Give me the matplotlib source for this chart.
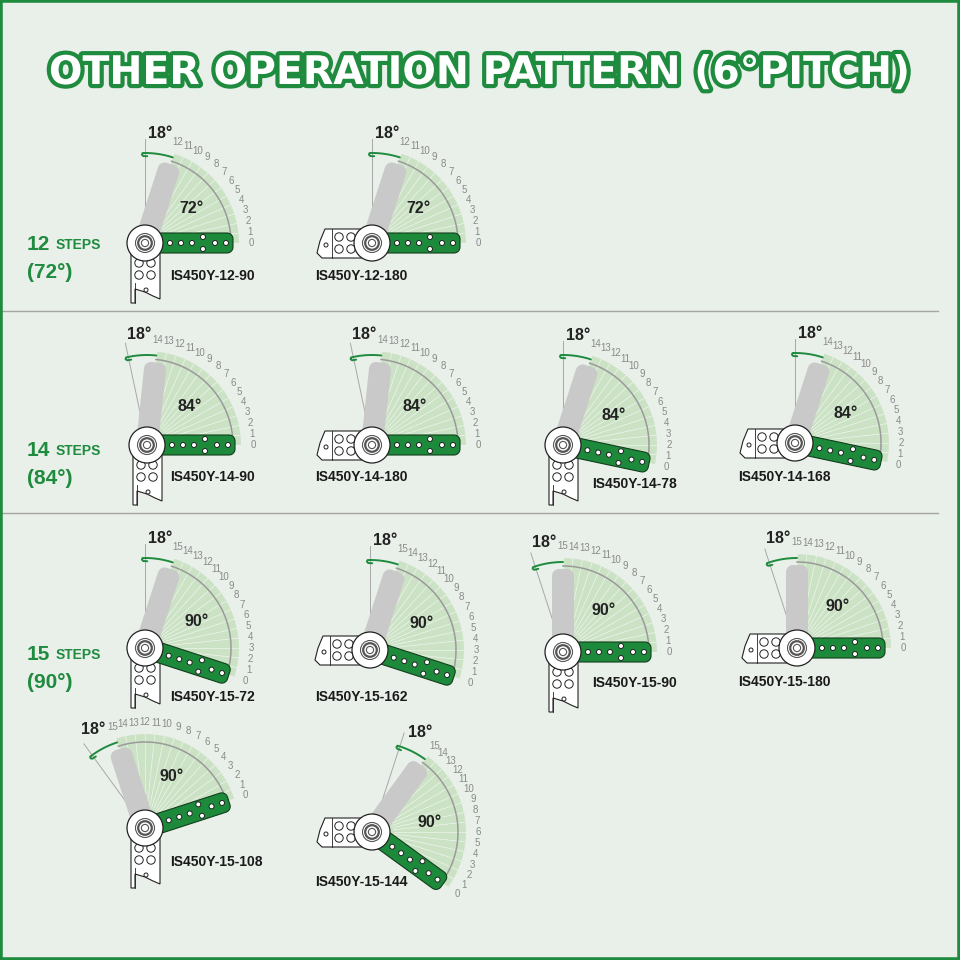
import numpy as np
import matplotlib
matplotlib.use("Agg")
import matplotlib.pyplot as plt
from matplotlib.patches import Polygon, Circle, Rectangle
import matplotlib.patheffects as pe

# --- Chart content ---
title = "OTHER OPERATION PATTERN (6°PITCH)"
pitch = 6          # degrees per step
extra_angle = 18   # angle beyond the last step
row_steps = [12, 14, 15]

models = ["IS450Y-12-90", "IS450Y-12-180",
          "IS450Y-14-90", "IS450Y-14-180", "IS450Y-14-78", "IS450Y-14-168",
          "IS450Y-15-72", "IS450Y-15-162", "IS450Y-15-90", "IS450Y-15-180",
          "IS450Y-15-108", "IS450Y-15-144"]
model_steps = [12, 12, 14, 14, 14, 14, 15, 15, 15, 15, 15, 15]
model_angles = [90, 180, 90, 180, 78, 168, 72, 162, 90, 180, 108, 144]
bracket_side = ["down", "left", "down", "left", "down", "left",
                "down", "left", "down", "left", "down", "left"]

# --- Layout (pixels, y from top) ---
hub_xy = [(145, 243), (372, 243),
          (147, 445), (372, 445), (563, 445), (795, 443),
          (145, 648), (370, 650), (563, 652), (797, 648),
          (145, 828), (372, 832)]
label_xy = [(170, 276), (315, 276),
            (170, 477), (315, 477), (592, 484), (738, 477),
            (170, 697), (315, 697), (592, 683), (738, 682),
            (170, 862), (315, 882)]
row_label_y = [(245, 273), (451, 478), (655, 682)]
separators_y = [311, 513]

GREEN = "#1e8b3e"
ARM = "#1d8a3b"
BG = "#e9efe9"
FAN = "#cbe2c5"

R_FAN = 94
R_ARC = 86
R_NUM = 106
HUB_R = 18


def pt(cx, cy, r, a):
    t = np.radians(a)
    return cx + r * np.cos(t), cy - r * np.sin(t)


def rot(cx, cy, pts, a):
    t = np.radians(a)
    out = []
    for x, y in pts:
        out.append((cx + x * np.cos(t) - y * np.sin(t),
                    cy - (x * np.sin(t) + y * np.cos(t))))
    return out


def arm_shape(length, width, rc):
    h = width / 2
    pts = [(0, -h), (length - rc, -h)]
    for t in np.linspace(-90, 0, 8):
        pts.append((length - rc + rc * np.cos(np.radians(t)), -h + rc + rc * np.sin(np.radians(t))))
    for t in np.linspace(0, 90, 8):
        pts.append((length - rc + rc * np.cos(np.radians(t)), h - rc + rc * np.sin(np.radians(t))))
    pts.append((0, h))
    return pts


def hole(ax, x, y, r, z):
    ax.add_patch(Circle((x, y), r, facecolor="white", edgecolor="#222", lw=0.7, zorder=z))


def draw_bracket(ax, cx, cy, side):
    if side == "down":
        poly = [(-14, 0), (-14, 60), (-10, 60), (-10, 46), (0, 49), (8, 53), (15, 56), (15, 0)]
        holes = [(-6, 20), (6, 20), (-6, 32), (6, 32)]
        small = (1, 47)
        ax.plot([cx - 10, cx - 10], [cy + 40, cy + 60], color="#222", lw=0.6, zorder=3.1)
    else:
        poly = [(0, -14), (-47, -14), (-52, -2), (-55, 10), (-50, 15), (0, 15)]
        holes = [(-33, -6), (-21, -6), (-33, 6), (-21, 6)]
        small = (-46, 2)
        ax.plot([cx - 40, cx - 40], [cy - 14, cy + 15], color="#222", lw=0.6, zorder=3.1)
    ax.add_patch(Polygon([(cx + x, cy + y) for x, y in poly], closed=True,
                         facecolor="white", edgecolor="#222", lw=0.8, zorder=3))
    for hx, hy in holes:
        hole(ax, cx + hx, cy + hy, 4.2, 3.2)
    hole(ax, cx + small[0], cy + small[1], 2, 3.2)


def draw_unit(ax, name, steps, angle, side, hub, lab):
    cx, cy = hub
    a0 = angle - (90 if side == "down" else 180)
    sweep = steps * pitch
    a1 = a0 + sweep

    # fan of steps
    for k in range(steps):
        p1 = pt(cx, cy, R_FAN, a0 + k * pitch)
        p2 = pt(cx, cy, R_FAN, a0 + (k + 1) * pitch)
        ax.add_patch(Polygon([(cx, cy), p1, p2], closed=True, facecolor=FAN,
                             edgecolor="none", zorder=1))
    for k in range(steps + 1):
        x1, y1 = pt(cx, cy, 22, a0 + k * pitch)
        x2, y2 = pt(cx, cy, R_FAN, a0 + k * pitch)
        ax.plot([x1, x2], [y1, y2], color="#edf5eb", lw=0.5, zorder=1.2)
        xn, yn = pt(cx, cy, R_NUM, a0 + k * pitch)
        ax.text(xn, yn, str(k), fontsize=7, color="#8a8a8a", ha="center", va="center",
                family="Liberation Sans", zorder=2)

    # inner arc
    aa = np.linspace(a0, a1, 60)
    xa, ya = pt(cx, cy, R_ARC, aa)
    ax.plot(xa, ya, color="#9a9a9a", lw=1.1, zorder=1.5)

    # thin limit line and 18 degree arrow
    xl, yl = pt(cx, cy, 104, a1 + extra_angle)
    ax.plot([cx, xl], [cy, yl], color="#a8a8a8", lw=0.7, zorder=1.1)
    ag = np.linspace(a1, a1 + extra_angle + 1.5, 40)
    xg, yg = pt(cx, cy, 90, ag)
    hook_a = [a1 + extra_angle + 1.5, a1 + extra_angle + 2.0, a1 + extra_angle + 1.2, a1 + extra_angle - 1.5]
    hook_r = [90, 88.5, 87, 86.8]
    xh, yh = pt(cx, cy, np.array(hook_r), np.array(hook_a))
    ax.plot(np.r_[xg, xh], np.r_[yg, yh], color=GREEN, lw=1.4, zorder=3, solid_capstyle="round")
    xt, yt = pt(cx, cy, 111, a1 + 10)
    ax.text(xt, yt, f"{extra_angle}°", fontsize=11.5, fontweight="bold", color="#222",
            ha="center", va="center", family="Liberation Sans", zorder=4)

    # sweep angle label
    xm, ym = pt(cx, cy, 58, (a0 + a1) / 2)
    ax.text(xm, ym, f"{sweep}°", fontsize=11.5, fontweight="bold", color="#222",
            ha="center", va="center", family="Liberation Sans", zorder=4)

    # grey arm at the end position
    ax.add_patch(Polygon(rot(cx, cy, arm_shape(83, 22, 7), a1), closed=True,
                         facecolor="#c9c9c9", edgecolor="none", zorder=2.5))

    draw_bracket(ax, cx, cy, side)

    # green arm at the start position
    ax.add_patch(Polygon(rot(cx, cy, arm_shape(88, 20, 6), a0), closed=True,
                         facecolor=ARM, edgecolor="#123d1c", lw=0.8, zorder=4))
    for d in [25, 36, 47, 70, 81]:
        (hx, hy), = rot(cx, cy, [(d, 0)], a0)
        hole(ax, hx, hy, 2.5, 4.2)
    for off in (-6, 6):
        (hx, hy), = rot(cx, cy, [(58, off)], a0)
        hole(ax, hx, hy, 2.5, 4.2)

    # hub
    ax.add_patch(Circle((cx, cy), HUB_R, facecolor="white", edgecolor="#222", lw=0.9, zorder=5))
    ax.add_patch(Circle((cx, cy), 9.5, facecolor="white", edgecolor="#555", lw=0.8, zorder=5.1))
    ax.add_patch(Circle((cx, cy), 6.8, facecolor="white", edgecolor="#555", lw=1.6, zorder=5.2))
    ax.add_patch(Circle((cx, cy), 3.6, facecolor="white", edgecolor="#555", lw=0.8, zorder=5.3))

    ax.text(lab[0], lab[1], name, fontsize=10, fontweight="bold", color="#1a1a1a",
            ha="left", va="center", family="Liberation Sans", zorder=6)


fig = plt.figure(figsize=(9.6, 9.6), dpi=100, facecolor=BG)
ax = fig.add_axes([0, 0, 1, 1])
ax.set_xlim(0, 960)
ax.set_ylim(960, 0)
ax.set_facecolor(BG)
ax.axis("off")

# frame
fig.patches.append(Rectangle((0, 0), 1, 1, transform=fig.transFigure, fill=False,
                             edgecolor=GREEN, lw=4, zorder=10))

# title: white letters with green outline, scaled to span the page
t = ax.text(480, 73, title, fontsize=28, fontweight="heavy", color="white",
            ha="center", va="center", family="DejaVu Sans", zorder=6,
            path_effects=[pe.Stroke(linewidth=6, foreground=GREEN), pe.Normal()])
fig.canvas.draw()
w = t.get_window_extent().width
t.set_fontsize(28 * 862 / w)

for y in separators_y:
    ax.plot([0, 938], [y, y], color="#a5a5a5", lw=1.0, zorder=0.5)

for n, (y1, y2) in zip(row_steps, row_label_y):
    tx = ax.text(27, y1, f"{n}", fontsize=15, fontweight="bold", color=GREEN,
                 ha="left", va="center", family="Liberation Sans")
    ax.annotate("STEPS", xy=(1, 0.5), xycoords=tx, xytext=(4, 0), textcoords="offset points",
                fontsize=10, fontweight="bold", color=GREEN, ha="left", va="center",
                family="Liberation Sans")
    ax.text(27, y2, f"({n * pitch}°)", fontsize=15, fontweight="bold", color=GREEN,
            ha="left", va="center", family="Liberation Sans")

for i in range(len(models)):
    draw_unit(ax, models[i], model_steps[i], model_angles[i], bracket_side[i],
              hub_xy[i], label_xy[i])

fig.savefig("out.png", dpi=100, facecolor=BG)
